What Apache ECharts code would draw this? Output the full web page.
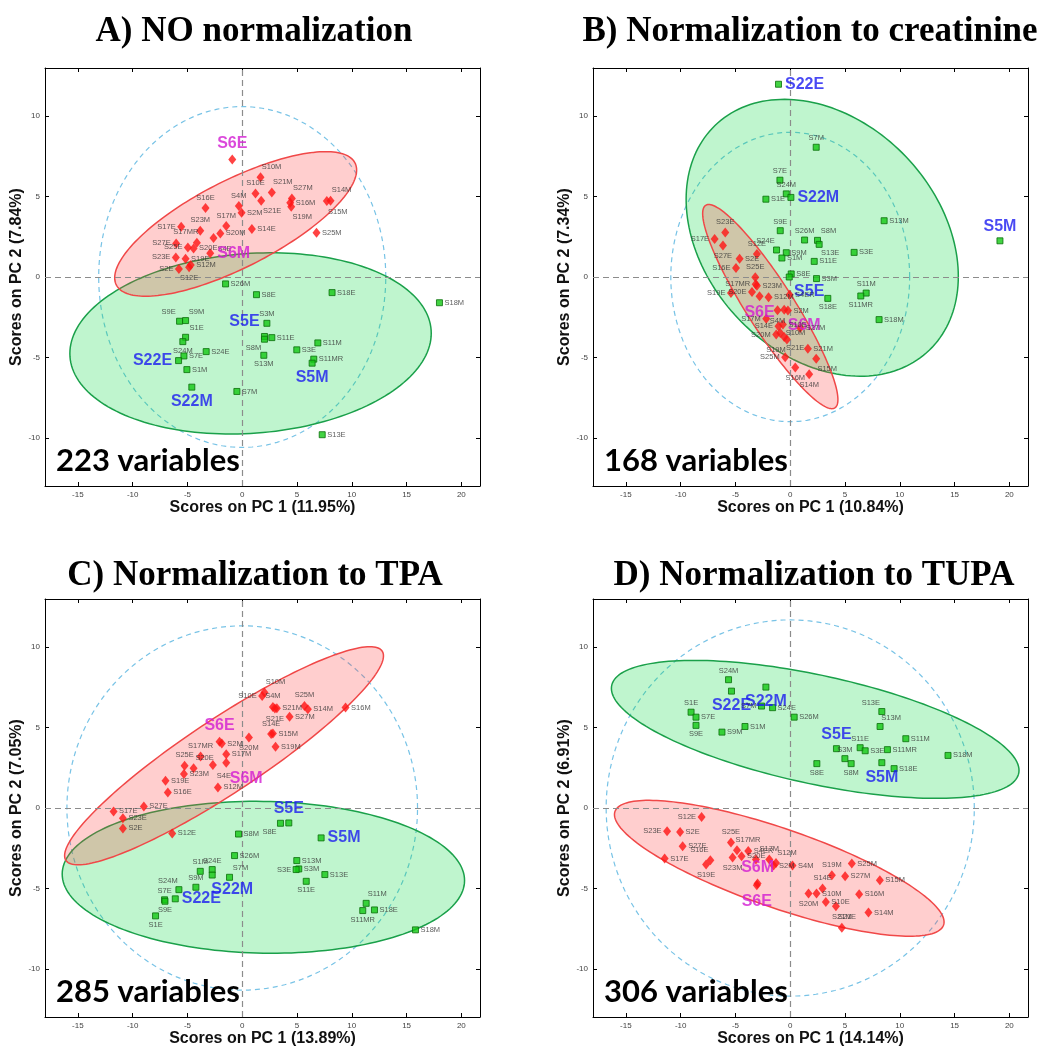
<!DOCTYPE html>
<html><head><meta charset="utf-8">
<script src="https://cdn.jsdelivr.net/npm/echarts@6/dist/echarts.min.js"></script>
<style>html,body{margin:0;padding:0;background:#fff}#c{width:1039px;height:1050px}</style>
</head><body><div id="c"></div>
<script>
// ---------- text ----------
const titles = ['A) NO normalization','B) Normalization to creatinine','C) Normalization to TPA','D) Normalization to TUPA'];
const xNames = ['Scores on PC 1 (11.95%)','Scores on PC 1 (10.84%)','Scores on PC 1 (13.89%)','Scores on PC 1 (14.14%)'];
const yNames = ['Scores on PC 2 (7.84%)','Scores on PC 2 (7.34%)','Scores on PC 2 (7.05%)','Scores on PC 2 (6.91%)'];
const varCounts = ['223 variables','168 variables','285 variables','306 variables'];
const xTicks = [-15,-10,-5,0,5,10,15,20];
const yTicks = [-10,-5,0,5,10];

// ---------- panel A ----------
const redA = [['S6E',-0.91,7.31],['S10M',1.67,6.21],['S10E',1.21,5.20],['S21M',2.70,5.26],['S21E',1.73,4.74],['S4M',-0.31,4.41],['S2M',-0.06,4.00],['S16E',-3.35,4.29],['S27M',4.53,4.89],['S16M',4.38,4.62],['S19M',4.47,4.37],['S14M',8.06,4.74],['S15M',7.72,4.72],['S25M',6.78,2.75],['S17E',-5.57,3.13],['S23M',-3.83,2.88],['S17M',-1.46,3.17],['S20M',-2.00,2.71],['S14E',0.88,2.98],['S27E',-6.03,2.09],['S17MR',-4.14,2.13],['S25E',-4.96,1.84],['S20E',-4.44,1.78],['S4E',-2.62,2.42],['S23E',-6.06,1.22],['S19E',-5.17,1.14],['S6M',-2.92,1.47],['S12M',-4.70,0.75],['S12E',-4.85,0.60],['S2E',-5.78,0.50]];
const greenA = [['S26M',-1.52,-0.43],['S8E',1.30,-1.10],['S18E',8.20,-0.97],['S18M',18.0,-1.60],['S9E',-5.72,-2.75],['S9M',-5.17,-2.71],['S3M',2.25,-2.88],['S1E',-5.17,-3.75],['S11E',2.70,-3.77],['S5E',2.03,-3.70],['S8M',2.03,-3.87],['S24M',-5.42,-4.02],['S24E',-3.29,-4.64],['S7E',-5.32,-4.91],['S22E',-5.81,-5.20],['S1M',-5.05,-5.76],['S22M',-4.60,-6.85],['S7M',-0.49,-7.12],['S13M',1.97,-4.87],['S3E',4.98,-4.53],['S11M',6.90,-4.10],['S11MR',6.53,-5.11],['S5M',6.38,-5.36],['S13E',7.30,-9.81]];
const redEllA = [-0.6,3.3,11.04,3.35,0,3.0];
const greenEllA = [0.76,-4.13,16.49,0.63,0,5.6];
const limitA = [13.1,10.6];

// ---------- panel B ----------
const redB = [['S23E',-5.93,2.77],['S17E',-6.90,2.36],['S27E',-6.14,1.96],['S12E',-3.04,1.43],['S2E',-4.62,1.14],['S16E',-4.95,0.56],['S25E',-3.19,-0.02],['S17MR',-3.15,-0.45],['S23M',-3.04,-0.55],['S20E',-3.49,-0.93],['S19E',-5.41,-1.00],['S6E',-2.80,-1.20],['S12M',-1.98,-1.26],['S4ER',-0.06,-1.10],['S2M',-0.21,-2.09],['S4M',-1.16,-2.07],['S6M',-0.55,-2.03],['S17M',-2.19,-2.59],['S14E',-1.07,-3.07],['S10E',-0.67,-2.96],['S20M',-1.28,-3.58],['S10M',-0.91,-3.48],['S19M',-0.30,-3.89],['S27M',0.91,-3.17],['S21E',-0.55,-3.73],['S21M',1.61,-4.47],['S15M',2.37,-5.09],['S25M',-0.46,-4.99],['S16M',0.46,-5.63],['S14M',1.73,-6.05]];
const greenB = [['S22E',-1.07,11.99],['S7M',2.37,8.07],['S7E',-0.94,6.02],['S24M',-0.36,5.17],['S22M',0.06,4.95],['S1E',-2.22,4.84],['S13M',8.57,3.50],['S5M',19.14,2.25],['S9E',-0.91,2.88],['S26M',1.31,2.30],['S8M',2.49,2.28],['S13E',2.64,2.03],['S24E',-1.25,1.68],['S9M',-0.36,1.51],['S3E',5.83,1.53],['S1M',-0.76,1.18],['S11E',2.19,0.97],['S8E',0.09,0.19],['S5E',-0.09,0.00],['S3M',2.40,-0.10],['S11M',6.93,-1.00],['S11MR',6.44,-1.18],['S18E',3.43,-1.33],['S18M',8.11,-2.65]];
const redEllB = [-1.82,-1.84,5.62,-6.35,2.55,0];
const greenEllB = [2.92,2.44,12.42,-2.40,0,8.27];
const limitB = [10.9,9.0];

// ---------- panel C ----------
const redC = [['S10M',2.03,7.18],['S10E',1.82,6.97],['S4M',2.80,6.29],['S21M',3.16,6.21],['S21E',2.98,6.19],['S25M',5.68,6.35],['S14M',5.99,6.15],['S16M',9.43,6.25],['S27M',4.32,5.67],['S15M',2.80,4.63],['S14E',2.64,4.60],['S19M',3.04,3.81],['S20M',0.61,4.39],['S6E',-2.07,4.12],['S2M',-1.86,4.01],['S17M',-1.46,3.35],['S17MR',-3.80,3.20],['S6M',-1.46,2.81],['S25E',-5.26,2.63],['S20E',-4.44,2.48],['S4E',-2.68,2.67],['S23M',-5.32,2.11],['S19E',-7.00,1.70],['S16E',-6.79,0.97],['S12M',-2.22,1.28],['S17E',-11.74,-0.21],['S27E',-8.98,0.10],['S23E',-10.89,-0.64],['S2E',-10.89,-1.27],['S12E',-6.39,-1.58]];
const greenC = [['S8E',3.49,-0.95],['S5E',4.25,-0.93],['S5M',7.20,-1.86],['S8M',-0.34,-1.62],['S26M',-0.70,-2.96],['S1M',-3.83,-3.94],['S24E',-2.74,-3.83],['S22M',-2.74,-4.17],['S7M',-1.16,-4.31],['S24M',-5.78,-5.08],['S9M',-4.23,-4.93],['S7E',-7.09,-5.71],['S9E',-7.05,-5.80],['S22E',-6.11,-5.65],['S1E',-7.91,-6.71],['S13M',4.98,-3.27],['S3M',5.16,-3.79],['S3E',4.92,-3.83],['S13E',7.54,-4.14],['S11E',5.84,-4.56],['S11M',11.31,-5.93],['S11MR',11.00,-6.38],['S18E',12.07,-6.34],['S18M',15.81,-7.58]];
const redEllC = [-1.66,3.25,14.55,6.21,0,2.73];
const greenEllC = [1.93,-4.31,18.36,-0.2,0,4.72];
const limitC = [16.0,11.33];

// ---------- panel D ----------
const redD = [['S12E',-8.09,-0.56],['S23E',-11.24,-1.45],['S2E',-10.05,-1.49],['S25E',-5.41,-2.15],['S17MR',-4.86,-2.63],['S27E',-9.82,-2.38],['S16E',-7.29,-3.25],['S19E',-7.68,-3.52],['S17E',-11.46,-3.14],['S4ER',-3.83,-2.67],['S20E',-4.44,-3.00],['S23M',-5.26,-3.08],['S4E',-3.13,-3.20],['S17M',-1.91,-3.20],['S12M',-1.30,-3.42],['S2M',-1.52,-3.58],['S4M',0.21,-3.58],['S6M',-2.98,-4.70],['S6E',-3.05,-4.80],['S19M',3.80,-4.18],['S25M',5.62,-3.45],['S27M',5.01,-4.24],['S15M',8.18,-4.49],['S14E',2.95,-5.01],['S10M',2.40,-5.32],['S20M',1.67,-5.32],['S10E',3.25,-5.84],['S21E',4.17,-6.11],['S16M',6.29,-5.36],['S14M',7.14,-6.50],['S21M',4.71,-7.45]];
const greenD = [['S24M',-5.63,7.98],['S22E',-5.36,7.27],['S22M',-2.22,7.52],['S7M',-2.62,6.34],['S24E',-1.61,6.24],['S26M',0.36,5.65],['S1E',-9.05,5.96],['S7E',-8.60,5.65],['S9E',-8.60,5.14],['S1M',-4.13,5.07],['S9M',-6.23,4.72],['S13E',8.36,6.00],['S13M',8.20,5.07],['S11M',10.55,4.31],['S11E',6.38,3.75],['S3E',6.84,3.56],['S11MR',8.87,3.63],['S5E',4.22,3.69],['S3M',4.99,3.07],['S8M',5.56,2.76],['S8E',2.43,2.76],['S5M',8.36,2.82],['S18E',9.48,2.45],['S18M',14.40,3.27]];
const redEllD = [-1.0,-3.75,15.04,-3.34,0,2.59];
const greenEllD = [2.28,4.89,18.6,-2.55,0,3.45];
const limitD = [16.8,11.7];

// ---------- label placement (style) ----------
const labA = {S6E:'t',S10M:'tr',S10E:'t',S21M:'tr',S21E:'br',S4M:'t',S16E:'t',S27M:'tr',S19M:'br',S14M:'tr',S15M:'br',S17E:'l',S23M:'t',S17M:'t',S27E:'l',S17MR:'tl',S25E:'l',S4E:'br',S23E:'l',S12E:'b',S2E:'l',S9E:'tl',S9M:'tr',S3M:'t',S1E:'tr',S5E:'tl',S8M:'bl',S13M:'b',S24M:'b',S22E:'l',S22M:'b',S5M:'b'};
const labB = {S7M:'t',S7E:'t',S24M:'t',S5M:'t',S9E:'t',S26M:'t',S8M:'tr',S13E:'br',S24E:'tl',S5E:'br',S11M:'t',S11MR:'b',S18E:'b',S23E:'t',S17E:'l',S27E:'b',S12E:'t',S16E:'l',S25E:'t',S17MR:'l',S20E:'l',S19E:'l',S6E:'b',S4M:'b',S6M:'br',S17M:'l',S14E:'l',S20M:'l',S19M:'bl',S21E:'br',S15M:'br',S25M:'l',S16M:'b',S14M:'b'};
const labC = {S10M:'tr',S10E:'l',S4M:'t',S21E:'b',S25M:'t',S14E:'t',S20M:'b',S6E:'t',S17MR:'t',S6M:'br',S25E:'t',S20E:'tr',S4E:'br',S8E:'bl',S5E:'t',S1M:'t',S24E:'t',S22M:'br',S7M:'tr',S24M:'tl',S9M:'t',S7E:'t',S9E:'b',S1E:'b',S3E:'l',S11E:'b',S11M:'tr',S11MR:'b'};
const labD = {S24M:'t',S22E:'b',S22M:'b',S7M:'l',S1E:'t',S9E:'b',S13E:'tl',S13M:'tr',S11E:'t',S5E:'t',S3M:'t',S8M:'b',S8E:'b',S5M:'b',S12E:'l',S23E:'l',S25E:'t',S17MR:'tr',S16E:'tl',S19E:'b',S23M:'b',S4E:'n',S17M:'t',S12M:'tr',S6M:'t',S6E:'b',S19M:'t',S14E:'t',S20M:'b',S21E:'br',S21M:'t'};

const panels = [
  {red:redA, green:greenA, redEll:redEllA, greenEll:greenEllA, lim:limitA, lab:labA},
  {red:redB, green:greenB, redEll:redEllB, greenEll:greenEllB, lim:limitB, lab:labB},
  {red:redC, green:greenC, redEll:redEllC, greenEll:greenEllC, lim:limitC, lab:labC},
  {red:redD, green:greenD, redEll:redEllD, greenEll:greenEllD, lim:limitD, lab:labD}
];
const grids = [
  {left:45, top:68, width:435, height:418},
  {left:593, top:68, width:435, height:418},
  {left:45, top:599, width:435, height:418},
  {left:593, top:599, width:435, height:418}
];
const titlePos = [[254,32],[810,32],[255,576],[814,576]];
const X_MIN=-18, X_MAX=21.7, Y_MIN=-13, Y_MAX=13;
const BLUE_NAMES = ['S5E','S5M','S22E','S22M'];
const MAG_NAMES = ['S6E','S6M'];

function labelFor(name, code){
  code = code || 'r';
  if (code === 'n') return {show:false};
  const big = BLUE_NAMES.includes(name) || MAG_NAMES.includes(name);
  const off = big ? 20 : 11;
  const map = {r:['right',[0,0]], l:['left',[0,0]], t:['top',[0,0]], b:['bottom',[0,0]],
    tr:['top',[off,0]], tl:['top',[-off,0]], br:['bottom',[off,0]], bl:['bottom',[-off,0]]};
  const m = map[code];
  if (big) {
    return {show:true, position:m[0], offset:m[1], distance:3, fontSize:16, fontWeight:'bold',
      fontFamily:'Liberation Sans, Arial, sans-serif',
      color: BLUE_NAMES.includes(name) ? '#1c1cf0' : '#d21cd2'};
  }
  return {show:true, position:m[0], offset:m[1], distance:1.5, fontSize:7.5,
    fontFamily:'Liberation Sans, Arial, sans-serif', color:'#333'};
}

function ellipseSeries(i, params, fill, stroke, dashed, z){
  return {
    type:'custom', xAxisIndex:i*2, yAxisIndex:i*2, z:z, silent:true, clip:true,
    dimensions:['cx','cy','px','py','qx','qy'], encode:{x:0, y:1},
    data:[params],
    renderItem:function(p, api){
      const cx=api.value(0), cy=api.value(1), px=api.value(2), py=api.value(3), qx=api.value(4), qy=api.value(5);
      const pts=[];
      for (let k=0;k<=180;k++){
        const t=k/180*Math.PI*2;
        pts.push(api.coord([cx+px*Math.cos(t)+qx*Math.sin(t), cy+py*Math.cos(t)+qy*Math.sin(t)]));
      }
      return {type:'polygon', shape:{points:pts}, style:{fill:fill, stroke:stroke, lineWidth: dashed?1.2:1.5, lineDash: dashed?[5,4]:null}};
    }
  };
}

const xAxes=[], yAxes=[], series=[], graphics=[];
const fontAxis = 'Liberation Sans, Arial, sans-serif';
panels.forEach(function(P, i){
  const common = {gridIndex:i, type:'value', splitLine:{show:false},
    axisLine:{show:true, onZero:false, lineStyle:{color:'#000', width:1}}};
  xAxes.push(Object.assign({}, common, {min:X_MIN, max:X_MAX, position:'bottom',
    axisTick:{show:true, inside:true, length:4, customValues:xTicks, lineStyle:{color:'#000'}},
    axisLabel:{customValues:xTicks, fontSize:8, color:'#444', margin:5, fontFamily:fontAxis},
    name:xNames[i], nameLocation:'middle', nameGap:14,
    nameTextStyle:{fontSize:16, fontWeight:'bold', color:'#111', fontFamily:fontAxis}}));
  xAxes.push(Object.assign({}, common, {min:X_MIN, max:X_MAX, position:'top',
    axisTick:{show:true, inside:true, length:4, customValues:xTicks, lineStyle:{color:'#000'}},
    axisLabel:{show:false}}));
  yAxes.push(Object.assign({}, common, {min:Y_MIN, max:Y_MAX, position:'left',
    axisTick:{show:true, inside:true, length:4, customValues:yTicks, lineStyle:{color:'#000'}},
    axisLabel:{customValues:yTicks, fontSize:8, color:'#444', margin:5, fontFamily:fontAxis},
    name:yNames[i], nameLocation:'middle', nameGap:17, nameRotate:90,
    nameTextStyle:{fontSize:16, fontWeight:'bold', color:'#111', fontFamily:fontAxis}}));
  yAxes.push(Object.assign({}, common, {min:Y_MIN, max:Y_MAX, position:'right',
    axisTick:{show:true, inside:true, length:4, customValues:yTicks, lineStyle:{color:'#000'}},
    axisLabel:{show:false}}));

  series.push(ellipseSeries(i, [0,0,P.lim[0],0,0,P.lim[1]], 'rgba(0,0,0,0)', '#78c3e6', true, 1));
  series.push(ellipseSeries(i, P.greenEll, 'rgba(0,215,60,0.25)', '#1aa04a', false, 2));
  series.push(ellipseSeries(i, P.redEll, 'rgba(255,60,60,0.25)', '#f04848', false, 3));

  series.push({type:'scatter', xAxisIndex:i*2, yAxisIndex:i*2, z:5, symbol:'rect', symbolSize:6,
    itemStyle:{color:'#14c814', borderColor:'#0a6e0a', borderWidth:1},
    label:{show:true, formatter:'{b}'}, emphasis:{disabled:true},
    data:P.green.map(function(d){return {name:d[0], value:[d[1],d[2]], label:labelFor(d[0], P.lab[d[0]])};}),
    markLine:{silent:true, symbol:'none', animation:false, label:{show:false},
      lineStyle:{color:'#8c8c8c', type:[6,4], width:1.2}, data:[{xAxis:0},{yAxis:0}]}
  });
  series.push({type:'scatter', xAxisIndex:i*2, yAxisIndex:i*2, z:6, symbol:'diamond', symbolSize:[8,10],
    itemStyle:{color:'#ff1414'},
    label:{show:true, formatter:'{b}'}, emphasis:{disabled:true},
    data:P.red.map(function(d){return {name:d[0], value:[d[1],d[2]], label:labelFor(d[0], P.lab[d[0]])};})
  });

  const g = grids[i];
  graphics.push({type:'text', x: titlePos[i][0], y: titlePos[i][1], z:10,
    style:{text:titles[i], font:'bold 35px "Liberation Serif", "Times New Roman", serif', fill:'#000', textAlign:'center', textVerticalAlign:'middle'}});
  graphics.push({type:'text', x: g.left + 11, y: g.top + g.height - 25, z:10,
    style:{text:varCounts[i], font:'bold 31px Lato, "Open Sans", sans-serif', fill:'#000', textAlign:'left', textVerticalAlign:'middle'}});
});

const chart = echarts.init(document.getElementById('c'));
chart.setOption({
  animation:false,
  backgroundColor:'#fff',
  grid: grids,
  xAxis: xAxes,
  yAxis: yAxes,
  series: series,
  graphic: graphics
});
</script></body></html>
